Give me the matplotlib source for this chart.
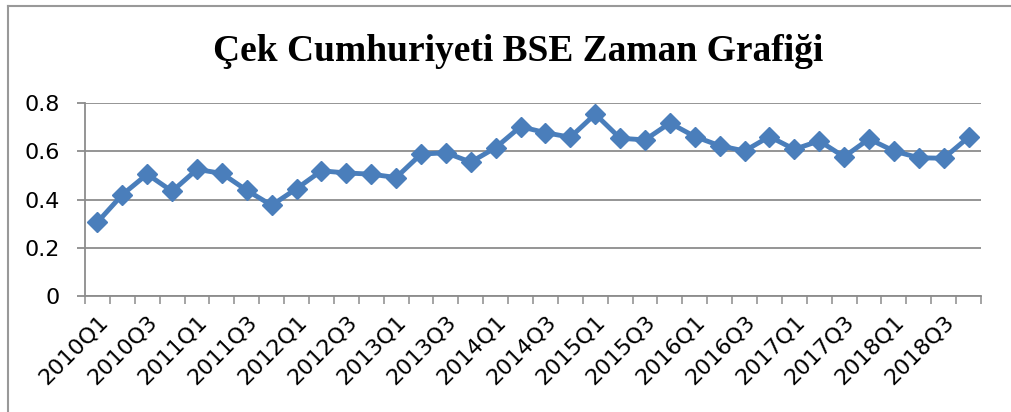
import matplotlib
matplotlib.use('Agg')
import matplotlib.pyplot as plt
from matplotlib.lines import Line2D

# quarters 2010Q1 .. 2018Q4
quarters = [f'{y}Q{q}' for y in range(2010, 2019) for q in range(1, 5)]
bse = [0.306, 0.420, 0.505, 0.434, 0.525, 0.508, 0.438, 0.376, 0.445, 0.519,
       0.510, 0.505, 0.491, 0.588, 0.594, 0.555, 0.615, 0.702, 0.677, 0.658,
       0.754, 0.654, 0.647, 0.717, 0.661, 0.623, 0.601, 0.661, 0.608, 0.643,
       0.577, 0.651, 0.601, 0.573, 0.571, 0.658]
yticks = [0, 0.2, 0.4, 0.6, 0.8]
ylabels = ['0', '0.2', '0.4', '0.6', '0.8']

grid_col = '#8c8c8c'
blue = '#4a7ebb'

fig = plt.figure(figsize=(10.11, 4.12), dpi=100)
ax = fig.add_axes([85 / 1011, 1 - 296 / 412, 896 / 1011, 193 / 412])

x = list(range(len(quarters)))
ax.plot(x, bse, color=blue, lw=3.5, marker='D', ms=10, mfc=blue, mec=blue)

ax.set_xlim(-0.5, len(quarters) - 0.5)
ax.set_ylim(0, 0.8)
ax.set_yticks(yticks)
ax.set_yticklabels(ylabels, fontsize=16, family='DejaVu Sans')
ax.yaxis.grid(True, color=grid_col, lw=1.3)
ax.set_axisbelow(True)

# labels on every other quarter, tick marks on category borders
ax.set_xticks(x[::2])
ax.set_xticklabels(quarters[::2], rotation=45, ha='right', va='top',
                   rotation_mode='anchor', fontsize=16, family='DejaVu Sans')
ax.set_xticks([i - 0.5 for i in range(len(quarters) + 1)], minor=True)
ax.tick_params(axis='x', which='major', length=0, pad=11)
ax.tick_params(axis='x', which='minor', length=6, width=1.1, color=grid_col, direction='out')
ax.tick_params(axis='y', length=6, width=1.3, color=grid_col, pad=12)

for s in ['top', 'right']:
    ax.spines[s].set_visible(False)
for s in ['left', 'bottom']:
    ax.spines[s].set_color(grid_col)
    ax.spines[s].set_linewidth(1.3)

fig.text(0.512, 0.874, 'Çek Cumhuriyeti BSE Zaman Grafiği', ha='center', va='center',
         fontsize=27, fontweight='bold', family='Liberation Serif')

# chart frame (top and left edges visible)
fig.add_artist(Line2D([8 / 1011, 1], [1 - 6 / 412, 1 - 6 / 412], color='#999999', lw=1.5))
fig.add_artist(Line2D([8 / 1011, 8 / 1011], [1 - 6 / 412, 0], color='#999999', lw=1.5))

fig.savefig('out.png', dpi=100)
